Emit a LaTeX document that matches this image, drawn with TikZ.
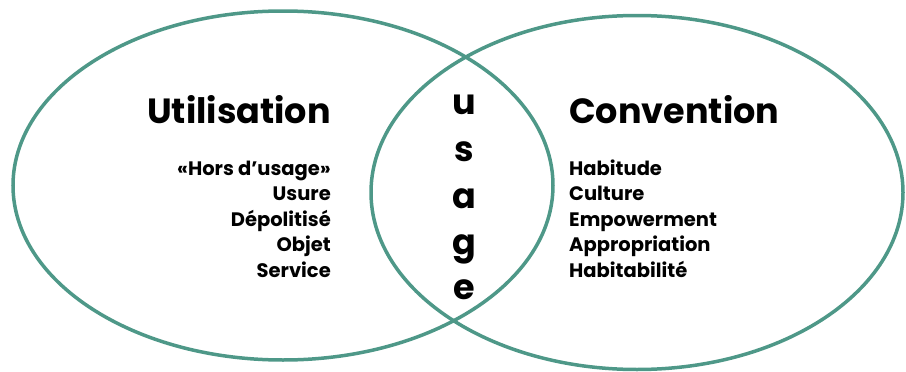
\documentclass[tikz,border=0pt]{standalone}
\usepackage{fontspec}
\setmainfont{Poppins}
\definecolor{ring}{RGB}{78,152,136}
\begin{document}
\begin{tikzpicture}[x=1pt,y=-1pt,
  ringline/.style={draw=ring,line width=3.5pt},
  title/.style={font=\bfseries\fontsize{35}{40}\selectfont,inner sep=0pt},
  item/.style={font=\bfseries\fontsize{19.5}{22}\selectfont,inner sep=0pt},
  letter/.style={font=\bfseries\fontsize{35}{40}\selectfont,inner sep=0pt,anchor=base}]
\useasboundingbox (0,0) rectangle (906,372);
\draw[ringline] (283,185.5) ellipse [x radius=270, y radius=174.5];
\draw[ringline] (637,192.5) ellipse [x radius=266, y radius=177];
\node[title,anchor=base east] (ut) at (331,123) {Utilisation};
\node[title,anchor=base west] (co) at (569,123) {Convention};
\node[item,anchor=base east] (l1) at (331,175) {«Hors d’usage»};
\node[item,anchor=base east] (l2) at (331,200.5) {Usure};
\node[item,anchor=base east] (l3) at (331,226) {Dépolitisé};
\node[item,anchor=base east] (l4) at (331,251.5) {Objet};
\node[item,anchor=base east] (l5) at (331,277) {Service};
\node[item,anchor=base west] (r1) at (569,175) {Habitude};
\node[item,anchor=base west] (r2) at (569,200.5) {Culture};
\node[item,anchor=base west] (r3) at (569,226) {Empowerment};
\node[item,anchor=base west] (r4) at (569,251.5) {Appropriation};
\node[item,anchor=base west] (r5) at (569,277) {Habitabilité};
\node[letter] (u1) at (464,114) {u};
\node[letter] (u2) at (464,161) {s};
\node[letter] (u3) at (464,208) {a};
\node[letter] (u4) at (464,254) {g};
\node[letter] (u5) at (464,299) {e};
\end{tikzpicture}
\end{document}
